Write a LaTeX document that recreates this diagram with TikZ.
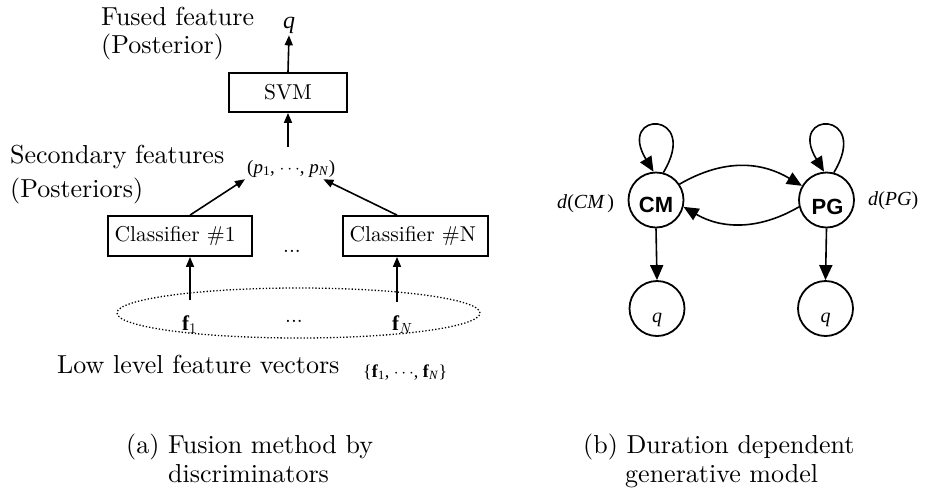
\documentclass[tikz,border=0pt]{standalone}
\usepackage{fontspec}
\setmainfont{lmroman10-regular}[Extension=.otf, BoldFont=lmroman10-bold, ItalicFont=lmroman10-italic, BoldItalicFont=lmroman10-bolditalic]
\newfontfamily\tms{Liberation Serif}
\newfontfamily\arl{Liberation Sans}
\usetikzlibrary{arrows.meta,calc,shapes.geometric}
\begin{document}
\begin{tikzpicture}[x=1pt,y=-1pt,
  lbl/.style={anchor=base west, inner sep=0pt, font=\fontsize{26}{28}\selectfont},
  captxt/.style={anchor=base west, inner sep=0pt, font=\fontsize{26}{28}\selectfont},
  boxnode/.style={draw, line width=1.8pt, inner sep=0pt, font=\fontsize{21.5}{24}\selectfont},
  arrA/.style={-{Triangle[length=10pt,width=8pt]}, line width=1.6pt},
  arrB/.style={-{Triangle[length=15pt,width=13pt]}, line width=1.6pt},
  st/.style={circle, draw, line width=1.8pt, minimum size=55pt, inner sep=0pt},
  stlbl/.style={inner sep=0pt, font=\arl\bfseries\fontsize{22}{24}\selectfont},
  mth/.style={inner sep=0pt, font=\tms\fontsize{19}{22}\selectfont},
  qlbl/.style={anchor=base, inner sep=0pt, font=\tms\itshape\fontsize{20}{22}\selectfont},
  bfv/.style={anchor=base west, inner sep=0pt, font=\tms\bfseries\fontsize{21}{24}\selectfont},
]
\useasboundingbox (0,0) rectangle (925,491);

% ---------- (a) ----------
\node[lbl] (fused) at (101,25) {Fused feature};
\node[lbl] (post) at (101,53) {(Posterior)};
\node[qlbl, font=\tms\itshape\fontsize{24}{26}\selectfont, inner sep=2pt] (qa) at (289,28) {q};
\node[boxnode, minimum width=118pt, minimum height=39pt] (svm) at (288,92.5) {SVM};

\node[lbl] (sec) at (10,163) {Secondary features};
\node[lbl] (posts) at (10,197) {(Posteriors)};
\node[mth, anchor=base west, inner sep=2pt] (p) at (245,173)
  {(\textit{p}\textsubscript{1}, $\cdots$, \textit{p}\textsubscript{\textit{N}})};
\coordinate (ptop) at (288,147);

\node[boxnode, minimum width=144pt, minimum height=40pt, text width=138pt, align=left] (cls1) at (180,236) {\,Classifier \#1};
\node[boxnode, minimum width=145pt, minimum height=40pt, text width=139pt, align=left] (clsN) at (415.5,236) {\,Classifier \#N};
\node[anchor=base west, inner sep=0pt, font=\fontsize{21}{24}\selectfont] (dotsA) at (283,252) {...};

\node[ellipse, draw, line width=1.3pt, dash pattern=on 1.3pt off 2pt, minimum width=363pt, minimum height=50pt, inner sep=0pt] (ell) at (298.5,313) {};
\node[bfv] (f1) at (182,330) {f\textsubscript{\normalfont 1}};
\node[bfv] (fN) at (392,330) {f\textsubscript{\normalfont\itshape N}};
\node[anchor=base west, inner sep=0pt, font=\fontsize{21}{24}\selectfont] (dotsB) at (285,322) {...};
\coordinate (s1) at (190,300);
\coordinate (sN) at (397,302);

\node[lbl] (low) at (57,373) {Low level feature vectors};
\node[mth, anchor=base west, font=\tms\fontsize{18}{20}\selectfont] (fset) at (363,377)
  {\{\textbf{f}\textsubscript{1}, $\cdots$, \textbf{f}\textsubscript{\textit{N}}\}};

\draw[arrA] (svm.north) -- (qa.south);
\draw[arrA] (ptop) -- (svm.south);
\draw[arrA] (cls1.north -| s1) -- (p.south west);
\draw[arrA] (clsN.north -| sN) -- ($(p.south east)+(-14,0)$);
\draw[arrA] (s1) -- (s1 |- cls1.south);
\draw[arrA] (sN) -- (sN |- clsN.south);

\node[captxt] (capa1) at (126,453) {(a) Fusion method by};
\node[captxt] (capa2) at (168,482) {discriminators};

% ---------- (b) ----------
\node[st] (CM) at (656,200) {};
\node[st] (PG) at (826.5,200) {};
\node[st] (q1) at (657,308.5) {};
\node[st] (q2) at (825.5,308.5) {};
\node[stlbl] (cmt) at (656,205) {CM};
\node[stlbl] (pgt) at (827.5,207) {PG};
\node[qlbl] (q1t) at (657,322) {q};
\node[qlbl] (q2t) at (825.5,322) {q};
\node[mth, anchor=base west, font=\tms\fontsize{20}{22}\selectfont] (dcm) at (557,208) {\textit{d}(\textit{CM\,})};
\node[mth, anchor=base west, font=\tms\fontsize{20}{22}\selectfont] (dpg) at (868,205) {\textit{d}(\textit{PG})};

\draw[arrB] (CM.75) .. controls ($(CM)+(45,-90)$) and ($(CM)+(-40,-90)$) .. (CM.95);
\draw[arrB] (PG.75) .. controls ($(PG)+(45,-90)$) and ($(PG)+(-40,-90)$) .. (PG.95);
\draw[arrB] (CM.34) .. controls ($(CM)+(68,-41.5)$) and ($(PG)+(-65.5,-38.5)$) .. (PG.150);
\draw[arrB] (PG.194) .. controls ($(PG)+(-66.5,29.7)$) and ($(CM)+(66.5,29.7)$) .. (CM.-14);
\draw[arrB] (CM.south) -- (q1.north);
\draw[arrB] (PG.south) -- (q2.north);

\node[captxt] (capb1) at (583,453) {(b) Duration dependent};
\node[captxt] (capb2) at (625,482) {generative model};
\end{tikzpicture}
\end{document}
